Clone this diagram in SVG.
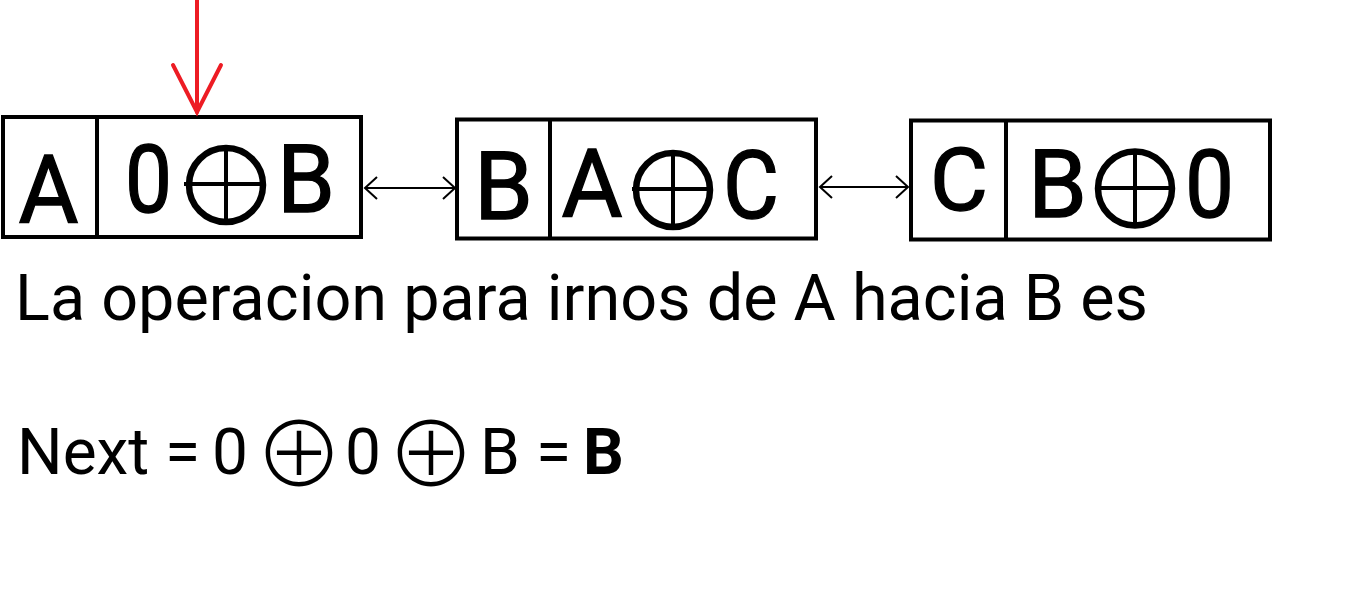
<svg xmlns="http://www.w3.org/2000/svg" width="1364" height="616" viewBox="0 0 1364 616">
<style>
.box{fill:#fff;stroke:#000;stroke-width:4}
.div{stroke:#000;stroke-width:4}
.big{font-family:Roboto,"Liberation Sans",sans-serif;font-size:95px;fill:#000;stroke:#000;stroke-width:1.4;text-anchor:middle}
.xor{fill:none;stroke:#000;stroke-width:6.5}
.xl{stroke:#000;stroke-width:4}
.link{stroke:#000;stroke-width:2;fill:none}
.t{font-family:Roboto,"Liberation Sans",sans-serif;font-size:64px;fill:#000}
.sym{font-family:"Noto Sans CJK SC","DejaVu Sans",sans-serif;font-size:90px;font-weight:200}
</style>
<defs>
<marker id="ah" markerUnits="userSpaceOnUse" markerWidth="30" markerHeight="30" refX="0" refY="0" viewBox="-15 -15 30 30" orient="auto-start-reverse">
<path d="M-12,-11 L0,0 L-12,11" fill="none" stroke="#000" stroke-width="2"/>
</marker>
</defs>
<rect width="1364" height="616" fill="#fff"/>
<g id="node-A">
<rect class="box" x="3" y="117" width="358" height="120"/>
<line class="div" x1="97" y1="117" x2="97" y2="237"/>
<text class="big" x="48.5" y="223" textLength="60" lengthAdjust="spacingAndGlyphs">A</text>
<text class="big" x="148.5" y="212" textLength="47" lengthAdjust="spacingAndGlyphs">0</text>
<circle class="xor" cx="226" cy="185" r="37"/>
<line class="xl" x1="184" y1="184" x2="266" y2="184"/>
<line class="xl" x1="226" y1="146" x2="226" y2="224"/>
<text class="big" x="306" y="212" textLength="58" lengthAdjust="spacingAndGlyphs">B</text>
</g>
<g id="node-B">
<rect class="box" x="457" y="119.5" width="359" height="119"/>
<line class="div" x1="550" y1="119.5" x2="550" y2="238.5"/>
<text class="big" x="503.5" y="219" textLength="59" lengthAdjust="spacingAndGlyphs">B</text>
<text class="big" x="592" y="217" textLength="61" lengthAdjust="spacingAndGlyphs">A</text>
<circle class="xor" cx="673" cy="190" r="37"/>
<line class="xl" x1="632" y1="189" x2="713" y2="189"/>
<line class="xl" x1="673" y1="150" x2="673" y2="229"/>
<text class="big" x="751" y="218" textLength="56" lengthAdjust="spacingAndGlyphs">C</text>
</g>
<g id="node-C">
<rect class="box" x="911" y="120.5" width="359" height="119"/>
<line class="div" x1="1006" y1="120.5" x2="1006" y2="239.5"/>
<text class="big" x="959" y="210" style="font-size:88px" textLength="58" lengthAdjust="spacingAndGlyphs">C</text>
<text class="big" x="1057.5" y="217" textLength="59" lengthAdjust="spacingAndGlyphs">B</text>
<circle class="xor" cx="1135" cy="188.5" r="37"/>
<line class="xl" x1="1095" y1="188" x2="1175" y2="188"/>
<line class="xl" x1="1135" y1="149" x2="1135" y2="228"/>
<text class="big" x="1209.5" y="217" textLength="49" lengthAdjust="spacingAndGlyphs">0</text>
</g>
<g id="connectors">
<line class="link" x1="365" y1="188" x2="455" y2="188" marker-start="url(#ah)" marker-end="url(#ah)"/>
<line class="link" x1="820" y1="187" x2="908" y2="187" marker-start="url(#ah)" marker-end="url(#ah)"/>
<g stroke="#ed1c24" stroke-width="4" fill="none" stroke-linecap="round">
<line x1="197" y1="0" x2="197" y2="112"/>
<polyline points="173,65 197,112 221,65"/>
</g>
</g>
<g id="text">
<text class="t" x="15" y="320" textLength="1133" lengthAdjust="spacingAndGlyphs">La operacion para irnos de A hacia B es</text>
<text class="t" y="474"><tspan x="17">Next</tspan><tspan x="165">=</tspan><tspan x="212">0</tspan><tspan class="sym" x="254" dy="13">⊕</tspan><tspan x="345" dy="-13">0</tspan><tspan class="sym" x="386" dy="13">⊕</tspan><tspan x="480" dy="-13">B</tspan><tspan x="536">=</tspan><tspan x="583" font-weight="bold">B</tspan></text>
</g>
</svg>
